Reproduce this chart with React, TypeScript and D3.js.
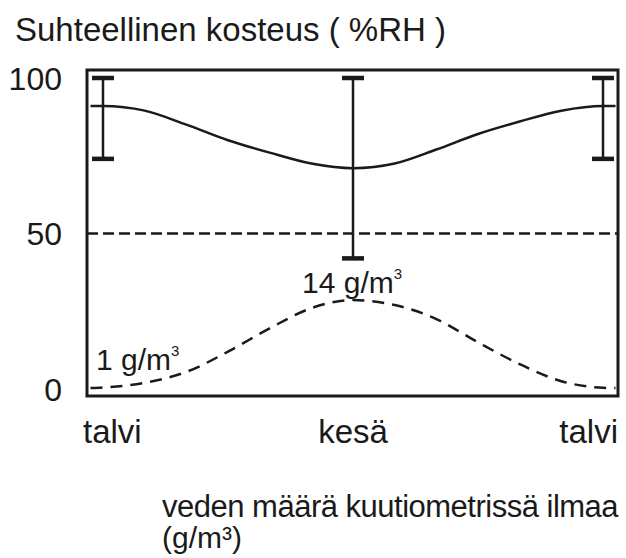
import React from "react";
import * as d3 from "d3";

// Season positions (0 = talvi, 6 = kesä, 12 = talvi)
const seasonLabels = ["talvi", "kesä", "talvi"];
const seasonPos = [0, 6, 12];
const yTicks = [0, 50, 100];

// Relative humidity mean curve (%RH)
const rhT = [-0.3, 0, 1, 2, 3, 4, 5, 6, 7, 8, 9, 10, 11, 12, 12.3];
const rhMean = [91, 91, 89.5, 85, 80, 76, 72.5, 71, 72.5, 77, 82, 86, 89.5, 91, 91];

// Error bars (%RH range)
const errT = [0, 6, 12];
const errLow = [74, 42, 74];
const errHigh = [100, 100, 100];

// Water content curve (drawn on same scale, schematic)
const wT = [-0.3, 0, 1, 2, 3, 4, 5, 6, 7, 8, 9, 10, 11, 12, 12.3];
const wVal = [0.3, 0.5, 2, 5.5, 12, 19.5, 26, 28.6, 27, 22.5, 15, 8, 2.5, 0.4, 0.3];

const refValue = 50;

const FONT = "'Liberation Sans', Arial, sans-serif";

export default function App() {
  const W = 626, H = 558;
  const frame = { x0: 87, y0: 70, x1: 618, y1: 396 };
  const x = d3.scaleLinear().domain([0, 12]).range([103, 603]);
  const y = d3.scaleLinear().domain([0, 100]).range([389, 78]);

  const rhLine = d3
    .line<number>()
    .x((_, i) => x(rhT[i]))
    .y((d) => y(d))
    .curve(d3.curveMonotoneX)(rhMean);

  const wLine = d3
    .line<number>()
    .x((_, i) => x(wT[i]))
    .y((d) => y(d))
    .curve(d3.curveMonotoneX)(wVal);

  const capW = 22;
  const ink = "#1a1a1a";

  return (
    <svg
      width={W}
      height={H}
      style={{ position: "absolute", left: 0, top: 0, background: "#fff" }}
      fontFamily={FONT}
    >
      <rect x={0} y={0} width={W} height={H} fill="#fff" />
      <text x={15} y={41} fontSize={33} fill={ink}>
        Suhteellinen kosteus ( %RH )
      </text>

      {yTicks.map((t) => (
        <text
          key={t}
          x={62}
          y={y(t)}
          dy="0.36em"
          textAnchor="end"
          fontSize={32}
          fill={ink}
        >
          {t}
        </text>
      ))}

      <line
        x1={frame.x0}
        x2={frame.x1}
        y1={y(refValue)}
        y2={y(refValue)}
        stroke={ink}
        strokeWidth={2.5}
        strokeDasharray="11,5"
      />

      <path d={wLine || ""} fill="none" stroke={ink} strokeWidth={2.5} strokeDasharray="12,8" />
      <path d={rhLine || ""} fill="none" stroke={ink} strokeWidth={2.5} />

      {errT.map((t, i) => (
        <g key={i}>
          <line x1={x(t)} x2={x(t)} y1={y(errHigh[i])} y2={y(errLow[i])} stroke={ink} strokeWidth={2.5} />
          <line x1={x(t) - capW / 2} x2={x(t) + capW / 2} y1={y(errHigh[i])} y2={y(errHigh[i])} stroke={ink} strokeWidth={4.5} />
          <line x1={x(t) - capW / 2} x2={x(t) + capW / 2} y1={y(errLow[i])} y2={y(errLow[i])} stroke={ink} strokeWidth={4.5} />
        </g>
      ))}

      <rect
        x={frame.x0}
        y={frame.y0}
        width={frame.x1 - frame.x0}
        height={frame.y1 - frame.y0}
        fill="none"
        stroke={ink}
        strokeWidth={3}
      />

      <text x={96} y={370} fontSize={30} fill={ink}>
        1 g/m<tspan fontSize={15} dy={-14}>3</tspan>
      </text>
      <text x={302} y={293} fontSize={30} fill={ink}>
        14 g/m<tspan fontSize={15} dy={-14}>3</tspan>
      </text>

      {seasonLabels.map((s, i) => (
        <text
          key={i}
          x={i === 0 ? frame.x0 - 4 : i === 2 ? frame.x1 : x(seasonPos[i])}
          y={443}
          textAnchor={i === 0 ? "start" : i === 2 ? "end" : "middle"}
          fontSize={33}
          fill={ink}
        >
          {s}
        </text>
      ))}

      <text x={162} y={517} fontSize={31} fill={ink} letterSpacing={-0.5}>
        veden määrä kuutiometrissä ilmaa
      </text>
      <text x={162} y={548} fontSize={30} fill={ink}>
        (g/m³)
      </text>
    </svg>
  );
}
